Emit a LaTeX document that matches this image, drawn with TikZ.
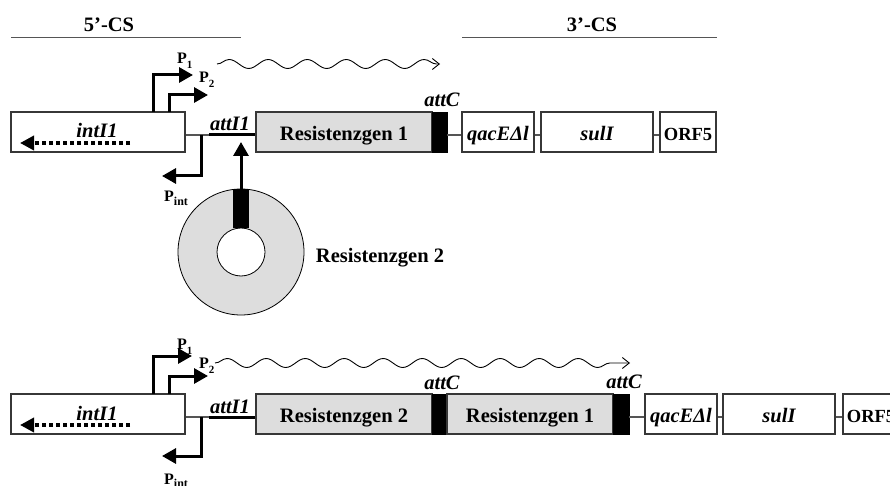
\documentclass[tikz,border=0pt]{standalone}
\usepackage{fontspec}
\setmainfont{Liberation Serif}
\usetikzlibrary{arrows.meta,decorations.pathmorphing}
\definecolor{lgrey}{RGB}{221,221,221}
\definecolor{edgec}{RGB}{55,55,55}
\definecolor{linec}{RGB}{85,85,85}
\newcommand{\Plab}[1]{P\raisebox{-5pt}{\fontsize{11}{11}\selectfont #1}}
\newcommand{\Pint}{P\raisebox{-3pt}{\fontsize{12}{12}\selectfont int}}
\begin{document}
\begin{tikzpicture}[x=1pt,y=-1pt,
  gene/.style={draw=edgec, line width=1.2pt, fill=white, inner sep=0pt,
    minimum height=40pt, text height=17pt, text depth=0pt,
    font=\fontsize{20.5}{24}\selectfont\bfseries\itshape},
  resbox/.style={gene, fill=lgrey, font=\fontsize{20.5}{24}\selectfont\bfseries},
  orfbox/.style={gene, font=\fontsize{18.5}{22}\selectfont\bfseries},
  attcblk/.style={draw=black, fill=black, inner sep=0pt, minimum height=40pt, minimum width=15pt},
  thinl/.style={draw=linec, line width=1.2pt},
  attl/.style={draw=black, line width=3pt},
  csl/.style={draw=linec, line width=1.5pt},
  prom/.style={draw=black, line width=3pt, -{Triangle[length=14pt,width=15pt]}},
  dashar/.style={draw=black, line width=3.5pt, dash pattern=on 4pt off 3pt, -{Triangle[length=14pt,width=14pt]}},
  wave/.style={draw=black, line width=0.9pt, decorate,
    decoration={snake, amplitude=4.5pt, segment length=39pt, post length=3pt},
    -{Straight Barb[length=7pt,width=11pt]}},
  lab/.style={inner sep=0pt, anchor=base, font=\fontsize{20.5}{24}\selectfont\bfseries},
  ilab/.style={lab, font=\fontsize{20.5}{24}\selectfont\bfseries\itshape},
  plab/.style={inner sep=0pt, anchor=base west, font=\fontsize{16}{18}\selectfont\bfseries}]
\useasboundingbox (0,0) rectangle (890,486);

% ---- headers
\node[lab] (cs5) at (109,32) {5’-CS};
\node[lab] (cs3) at (592,32) {3’-CS};
\coordinate (cs5a) at (11,37.5);  \coordinate (cs5b) at (241,37.5);
\coordinate (cs3a) at (462,37.5); \coordinate (cs3b) at (717,37.5);
\draw[csl] (cs5a) -- (cs5b);
\draw[csl] (cs3a) -- (cs3b);

% ================= top integron
\node[gene, minimum width=174pt] (int) at (98,132) {};
\node[ilab] (intt) at (97,138) {intI1};
\coordinate (dsA) at (130,143); \coordinate (dsB) at (20,143);
\draw[dashar] (dsA) -- (dsB);
\node[resbox, minimum width=176pt] (res1) at (344,132) {Resistenzgen 1};
\node[attcblk] (ac1) at (439.5,132) {};
\node[gene, minimum width=72pt] (qac) at (498,132) {qacE\textbf{Δ}l};
\node[gene, minimum width=112pt] (sul) at (597,132) {sulI};
\node[orfbox, minimum width=56pt] (orf) at (688,132) {ORF5};

\coordinate (a1) at (209,135);
\draw[thinl] (int.east |- a1) -- (a1);
\draw[attl] (a1) -- (res1.west |- a1);
\draw[thinl] (ac1.east |- a1) -- (qac.west |- a1);
\draw[thinl] (qac.east |- a1) -- (sul.west |- a1);
\draw[thinl] (sul.east |- a1) -- (orf.west |- a1);

\node[ilab] (att1) at (230,131) {attI1};
\node[ilab] (attc1) at (442,107) {attC};

% promoters
\coordinate (p1s) at (153,112); \coordinate (p1e) at (193,75);
\coordinate (p2s) at (169.5,112); \coordinate (p2e) at (208,95);
\coordinate (pis) at (201,135); \coordinate (pie) at (162,176);
\draw[prom] (p1s) |- (p1e);
\draw[prom] (p2s) |- (p2e);
\draw[prom] (pis) |- (pie);
\node[plab] (P1) at (177,64) {\Plab{1}};
\node[plab] (P2) at (199,83) {\Plab{2}};
\node[plab] (Pi) at (164,202) {\Pint};

\coordinate (w1a) at (217,64); \coordinate (w1b) at (440,64);
\draw[wave] (w1a) -- (w1b);

% circular cassette
\node[circle, draw=black, line width=0.8pt, fill=lgrey, inner sep=0pt, minimum size=126pt] (ring) at (241,252) {};
\node[circle, draw=black, line width=0.8pt, fill=white, inner sep=0pt, minimum size=48pt] (hole) at (241,252) {};
\fill[black] ([xshift=-8pt]ring.north) rectangle ([xshift=8pt]hole.north);
\coordinate (ctip) at (241,142);
\draw[prom] (ring.north) -- (ctip);
\node[lab] (r2) at (380,262) {Resistenzgen 2};

% ================= bottom integron
\node[gene, minimum width=174pt] (intb) at (98,414) {};
\node[ilab] (inttb) at (97,420) {intI1};
\coordinate (dsC) at (130,425); \coordinate (dsD) at (20,425);
\draw[dashar] (dsC) -- (dsD);
\node[resbox, minimum width=176pt] (res2b) at (344,414) {Resistenzgen 2};
\node[attcblk] (ac2) at (439.5,414) {};
\node[resbox, minimum width=166pt] (res1b) at (530,414) {Resistenzgen 1};
\node[attcblk, minimum width=16pt] (ac3) at (621,414) {};
\node[gene, minimum width=72pt] (qacb) at (681,414) {qacE\textbf{Δ}l};
\node[gene, minimum width=112pt] (sulb) at (779,414) {sulI};
\node[orfbox, minimum width=56pt] (orfb) at (871,414) {ORF5};

\coordinate (a2) at (209,417);
\draw[thinl] (intb.east |- a2) -- (a2);
\draw[attl] (a2) -- (res2b.west |- a2);
\draw[thinl] (ac3.east |- a2) -- (qacb.west |- a2);
\draw[thinl] (qacb.east |- a2) -- (sulb.west |- a2);
\draw[thinl] (sulb.east |- a2) -- (orfb.west |- a2);

\node[ilab] (att1b) at (230,413) {attI1};
\node[ilab] (attc2) at (442,389) {attC};
\node[ilab] (attc3) at (624,388) {attC};

\coordinate (q1s) at (153,394); \coordinate (q1e) at (192,356);
\coordinate (q2s) at (169.5,394); \coordinate (q2e) at (208,376);
\coordinate (qis) at (201,417); \coordinate (qie) at (162,456);
\draw[prom] (q1s) |- (q1e);
\draw[prom] (q2s) |- (q2e);
\draw[prom] (qis) |- (qie);
\node[plab] (P1b) at (177,349) {\Plab{1}};
\node[plab] (P2b) at (199,368) {\Plab{2}};
\node[plab] (Pib) at (164,484) {\Pint};

\coordinate (w2a) at (215,363); \coordinate (w2b) at (630,363);
\draw[wave] (w2a) -- (w2b);
\end{tikzpicture}
\end{document}
